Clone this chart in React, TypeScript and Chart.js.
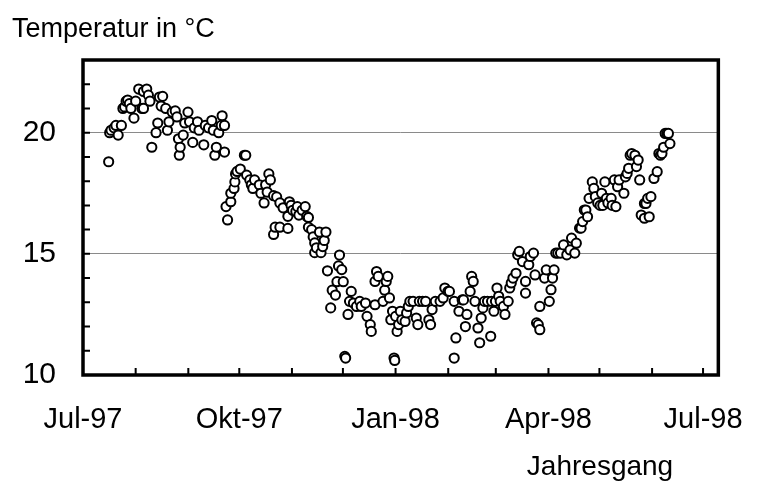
import React, { useEffect, useRef } from "react";
import { Chart, registerables } from "chart.js";

Chart.register(...registerables);

// days since 1 Jul 1997
const dayOffsets: number[] = [
  15.1, 15.7, 16.5, 18.3, 19.4, 20.7, 22.6, 23.5, 24.5, 25.4, 26.3, 27.3, 28.2, 30.0, 31.0, 32.8, 34.7, 35.6, 35.6,
  37.5, 38.5, 39.4, 40.5, 43.0, 44.0, 45.0, 46.0, 46.9, 48.7, 49.7, 50.6, 52.5, 54.3, 55.3, 56.2, 56.7,
  57.2, 59.0, 59.9, 61.8, 62.7, 64.6, 65.5, 67.4, 68.3, 71.1, 72.0, 73.9, 75.8, 76.7, 77.6, 78.5, 79.9,
  81.4, 81.9, 83.3, 83.3,
  84.2, 85.1, 87.0, 87.0, 88.9, 89.4, 89.8, 90.7, 92.6, 95.0, 95.8, 96.3, 98.2, 99.1, 100.0, 101.0,
  103.8, 104.7, 106.6, 107.5, 108.4, 109.4, 110.3, 112.2, 112.2, 113.1, 114.0, 115.9, 115.9, 117.8,
  120.6, 120.6, 121.5, 122.5, 123.4, 125.3, 126.2, 127.1, 129.0, 130.8, 131.7, 132.7, 132.7, 134.6,
  135.5, 136.4, 136.4, 137.4, 139.2, 140.1, 141.1, 142.0, 143.0,
  143.9, 145.8, 146.7, 148.6, 149.5, 150.4, 151.0, 152.3, 153.2, 154.1, 154.6, 156.0, 156.9, 157.9,
  159.2, 161.0, 162.9, 163.8, 166.3, 167.2, 169.1, 169.7, 171.9, 171.9, 172.8, 173.8, 176.6, 177.6,
  178.5, 179.4, 180.4, 181.2, 182.2, 183.1, 183.5, 184.0, 184.9, 185.8, 186.8, 187.7, 189.6, 190.5,
  191.5, 192.4, 194.3, 196.2, 197.1, 198.0, 199.9, 201.7, 203.6, 204.6, 205.5, 207.4, 210.2, 212.0,
  213.0, 214.8, 215.7, 218.5, 218.5, 219.5, 221.3, 223.2, 224.0, 225.1, 226.0, 227.9, 228.8, 229.7,
  230.7, 232.5, 233.5, 234.4, 235.4, 236.3, 238.1, 240.0, 240.5, 241.9, 242.8, 243.7, 244.7, 245.6,
  247.5, 248.4, 250.3, 251.2, 252.1, 253.1, 254.9, 255.9, 256.8, 258.7, 260.5, 260.5, 262.4, 263.3,
  265.2, 266.1, 267.0, 268.0, 268.9, 268.9, 271.7, 272.7, 274.5, 275.5, 276.4, 277.3, 278.3, 279.5,
  281.1, 282.9, 284.8, 286.7, 287.6, 289.5, 290.4, 292.3, 293.2, 294.1, 295.1, 296.0, 297.0, 297.9,
  299.8, 300.7, 301.6, 303.0, 304.4, 305.3, 306.0, 307.2, 308.1, 309.0, 310.9, 311.5, 312.8, 313.7,
  314.7, 315.6, 318.4, 319.3, 320.3, 321.2, 322.1, 323.0, 324.9, 325.8, 326.8, 327.7, 328.6, 330.5,
  330.5, 331.4, 332.4, 333.3, 334.3, 336.1, 338.0, 339.0, 339.9, 340.8, 341.8, 342.7, 343.7, 344.6, 345.5,
];

// water temperature in °C
const temperatures: number[] = [
  18.8, 20.0, 20.1, 20.2, 20.3, 19.9, 20.3, 21.0, 21.06, 21.3, 21.35, 21.2, 21.0, 20.6, 21.3, 21.8, 21.0, 21.7, 21.0,
  21.8, 21.55, 21.3, 19.4, 20.0, 20.4, 21.47, 21.1, 21.5, 21.0, 20.1, 20.45, 20.85, 20.9, 20.65, 19.75, 19.07,
  19.4, 19.9, 20.4, 20.85, 20.45, 19.6, 20.2, 20.45, 20.1, 19.5, 20.3, 20.2, 20.5, 20.1, 19.07, 19.4, 20.0,
  20.3, 20.7, 19.2, 20.3,
  16.95, 16.4, 17.15, 17.5, 17.7, 17.97, 18.3, 18.4, 18.5, 19.07, 19.07, 18.25, 18.05, 17.85, 17.7, 18.05,
  17.85, 17.5, 17.1, 17.85, 17.55, 18.3, 18.05, 17.4, 15.8, 16.1, 17.35, 16.1, 17.1, 16.9,
  16.05, 16.55, 17.15, 17.0, 16.8, 16.75, 16.95, 16.6, 16.8, 16.95, 16.55, 16.5, 16.1, 16.0,
  15.7, 15.45, 15.05, 15.25, 15.9, 15.05, 15.3, 15.55, 15.9,
  14.3, 12.77, 13.5, 13.3, 13.85, 14.5, 14.95, 14.35, 13.85, 10.77, 10.7, 12.5, 13.04, 13.45,
  12.97, 12.83, 13.04, 12.83, 12.97, 12.42, 12.08, 11.8, 12.9, 13.86, 14.27, 14.07, 13.04, 13.5,
  13.86, 14.07, 13.18, 12.28, 12.63, 10.7, 10.6, 12.42, 11.8, 12.08, 12.63, 12.28, 12.21, 12.56,
  12.83, 13.04, 13.04, 12.35, 12.08, 13.04, 13.04, 13.04, 12.28, 12.08, 12.7, 13.04, 13.04, 13.18,
  13.59, 13.45, 13.45, 13.04, 10.7, 11.53, 12.63, 13.1, 13.1, 12.0, 12.5, 13.45, 14.07, 13.86,
  13.04, 11.94, 11.33, 12.35, 12.77, 13.04, 13.04, 11.6, 13.04, 12.63, 13.04, 13.59, 13.25, 13.04,
  12.83, 12.5, 13.04, 13.59, 13.8, 14.0, 14.2, 14.96, 15.1, 14.68, 13.86, 13.38, 14.55, 14.89,
  15.03, 14.13, 12.15, 12.08, 11.87, 12.83, 14.0, 14.34, 13.04, 13.52, 14.0, 14.34, 15.03, 15.03,
  15.03, 15.37, 14.96, 15.16, 15.65, 15.03, 15.44, 16.06, 16.06, 16.33, 16.81, 16.81, 16.53, 17.29,
  17.97, 17.7, 17.36, 17.1, 17.0, 17.5, 17.0, 17.97, 17.29, 17.1, 17.29, 17.0, 18.05, 16.95,
  17.77, 18.05, 17.5, 18.18, 18.32, 18.53, 19.07, 19.14, 19.07, 18.6, 18.87, 18.05, 16.6, 16.47,
  17.08, 17.08, 17.29, 16.53, 17.36, 18.11, 18.39, 19.14, 19.07, 19.14, 19.4, 19.97, 19.97, 19.97, 19.55,
];

// month starts (days since 1 Jul 1997) and labels shown on the x axis
const monthStarts: number[] = [0, 31, 62, 92, 123, 153, 184, 215, 243, 274, 304, 335, 365];
const quarterLabels: Record<number, string> = { 0: "Jul-97", 92: "Okt-97", 184: "Jan-98", 274: "Apr-98", 365: "Jul-98" };
const yLabelValues: number[] = [10, 15, 20];
const yGridValues: number[] = [15, 20];

const FONT = "'Liberation Sans', Arial, sans-serif";

const decorPlugin = {
  id: "decor",
  afterDatasetsDraw(chart: any) {
    const { ctx, chartArea: a, scales } = chart;
    ctx.save();
    ctx.strokeStyle = "#000";
    ctx.lineWidth = 2;
    ctx.beginPath();
    for (const d of monthStarts) {
      const x = scales.x.getPixelForValue(d);
      ctx.moveTo(x, a.bottom);
      ctx.lineTo(x, a.bottom - 7);
    }
    for (const t of scales.y.ticks) {
      const y = scales.y.getPixelForValue(t.value);
      ctx.moveTo(a.left, y);
      ctx.lineTo(a.left + 7, y);
    }
    ctx.stroke();
    ctx.lineWidth = 3.5;
    ctx.strokeRect(a.left, a.top, a.right - a.left, a.bottom - a.top);
    ctx.fillStyle = "#000";
    ctx.font = `27px ${FONT}`;
    ctx.textAlign = "left";
    ctx.textBaseline = "alphabetic";
    ctx.fillText("Temperatur in °C", 12, 37);
    ctx.textAlign = "center";
    ctx.font = `28px ${FONT}`;
    ctx.fillText("Jahresgang", 600, 475);
    ctx.restore();
  },
};

export default function App() {
  const ref = useRef<HTMLCanvasElement>(null);
  useEffect(() => {
    document.body.style.margin = "0";
    const canvas = ref.current!;
    const points = dayOffsets.map((d, i) => ({ x: d, y: temperatures[i] }));
    const chart = new Chart(canvas, {
      type: "scatter",
      data: {
        datasets: [
          {
            data: points,
            pointRadius: 4.6,
            pointBorderWidth: 2,
            pointBorderColor: "#000",
            pointBackgroundColor: "#fff",
          },
        ],
      },
      options: {
        animation: false,
        responsive: false,
        layout: { padding: { top: 60, right: 19, left: 0, bottom: 0 } },
        plugins: { legend: { display: false }, tooltip: { enabled: false } },
        scales: {
          x: {
            type: "linear",
            min: 0,
            max: 374,
            afterBuildTicks: (s: any) => {
              s.ticks = monthStarts.map((v) => ({ value: v }));
            },
            afterFit: (s: any) => {
              s.height = 106;
            },
            ticks: {
              autoSkip: false,
              maxRotation: 0,
              padding: 28,
              color: "#000",
              font: { family: FONT, size: 29 },
              callback: (v: any) => quarterLabels[v as number] ?? "",
            },
            grid: { display: false, drawTicks: false },
            border: { display: false },
          },
          y: {
            min: 10,
            max: 23,
            afterFit: (s: any) => {
              s.width = 83;
            },
            ticks: {
              stepSize: 1,
              autoSkip: false,
              padding: 27,
              color: "#000",
              font: { family: FONT, size: 30 },
              callback: (v: any) => (yLabelValues.includes(v as number) ? String(v) : ""),
            },
            grid: {
              drawTicks: false,
              color: (c: any) => (yGridValues.includes(c.tick?.value) ? "#8a8a8a" : "rgba(0,0,0,0)"),
              lineWidth: 1,
            },
            border: { display: false },
          },
        },
      },
      plugins: [decorPlugin],
    });
    return () => chart.destroy();
  }, []);
  return <canvas ref={ref} width={771} height={481} style={{ display: "block" }} />;
}
